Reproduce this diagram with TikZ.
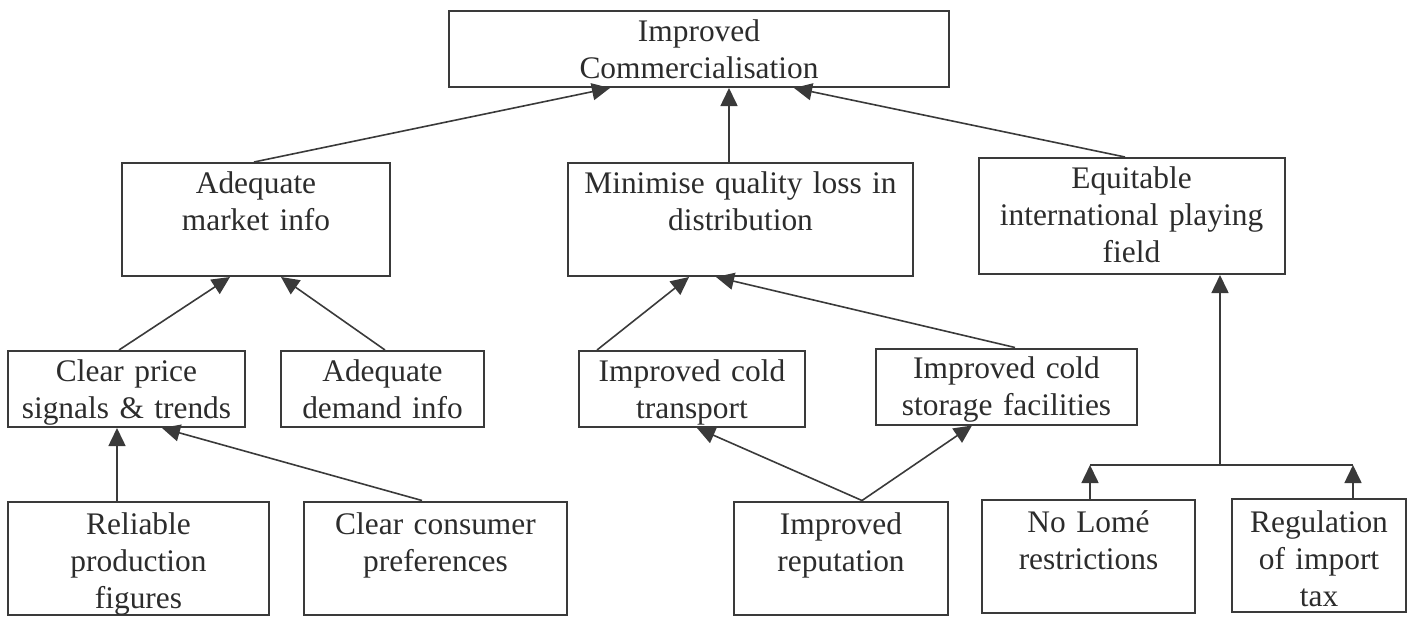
\documentclass[tikz,border=0pt]{standalone}
\usepackage{fontspec}
\setmainfont{Liberation Serif}
\usepackage{tikz}
\usetikzlibrary{arrows.meta}
\definecolor{ink}{HTML}{3A3A3A}
\definecolor{txt}{HTML}{2C2C2C}

\begin{document}
\begin{tikzpicture}[>={Triangle[length=9pt,width=8.5pt]}, x=0.5pt, y=-0.5pt,
        box/.style={draw=ink, line width=1pt, align=center, text=txt,
            inner sep=0pt, text height=15pt,
            font=\fontsize{15.7pt}{18.5pt}\selectfont},
        low/.style={text depth=23pt},
        tall/.style={text depth=41.5pt},
        deep/.style={text height=16.5pt, text depth=40pt},
        link/.style={draw=ink, line width=0.8pt}]
        \useasboundingbox (0,0) rectangle (1412,616);
        % top
        \node[box, low, text width=250pt] (com) at (699,49) {Improved\\Commercialisation};
        % second row
        \node[box, tall, text width=134pt] (mkt) at (256,219.5) {Adequate\\market info};
        \node[box, tall, text width=172.5pt] (qual) at (740.5,219.5) {Minimise quality loss in\\distribution};
        \node[box, text depth=43pt, text width=153pt] (fair) at (1131.5,216) {Equitable\\international playing\\field};
        % third row
        \node[box, low, text width=118.5pt] (price) at (126.5,389) {Clear price\\signals \& trends};
        \node[box, low, text width=101.5pt] (demand) at (382.5,389) {Adequate\\demand info};
        \node[box, low, text width=113pt] (transp) at (692,389) {Improved cold\\transport};
        \node[box, low, text width=130.5pt] (store) at (1006.5,386.5) {Improved cold\\storage facilities};
        % bottom row
        \node[box, deep, text width=130.5pt] (figs) at (138.5,558) {Reliable\\production\\figures};
        \node[box, deep, text width=131.5pt] (pref) at (435.5,558) {Clear consumer\\preferences};
        \node[box, deep, text width=107pt] (rep) at (841,558) {Improved\\reputation};
        \node[box, deep, text width=106.5pt] (lome) at (1088.5,556) {No Lomé\\restrictions};
        \node[box, deep, text width=87pt] (tax) at (1319,555.5) {Regulation\\of import\\tax};

        \draw[link, ->] (254,0 |- mkt.north) -- (610,0 |- com.south);
        \draw[link, ->] (729,0 |- qual.north) -- (729,0 |- com.south);
        \draw[link, ->] (1125,0 |- fair.north) -- (794,0 |- com.south);

        \draw[link, ->] (119,0 |- price.north) -- (230,0 |- mkt.south);
        \draw[link, ->] (385,0 |- demand.north) -- (281,0 |- mkt.south);
        \draw[link, ->] (597,0 |- transp.north) -- (689,0 |- qual.south);
        \draw[link, ->] (1015,0 |- store.north) -- (716,0 |- qual.south);

        \draw[link, ->] (117,0 |- figs.north) -- (117,0 |- price.south);
        \draw[link, ->] (422,0 |- pref.north) -- (162,0 |- price.south);
        \draw[link, ->] (862,0 |- rep.north) -- (697,0 |- transp.south);
        \draw[link, ->] (862,0 |- rep.north) -- (972,0 |- store.south);

        \coordinate (fork) at (1220,465);
        \coordinate (forkl) at (1090,465);
        \coordinate (forkr) at (1353,465);
        \draw[link] (forkl) -- (forkr);
        \draw[link, ->] (fork) -- (fork |- fair.south);
        \draw[link, ->] (forkl |- lome.north) -- (forkl);
        \draw[link, ->] (forkr |- tax.north) -- (forkr);
    \end{tikzpicture}
\end{document}
